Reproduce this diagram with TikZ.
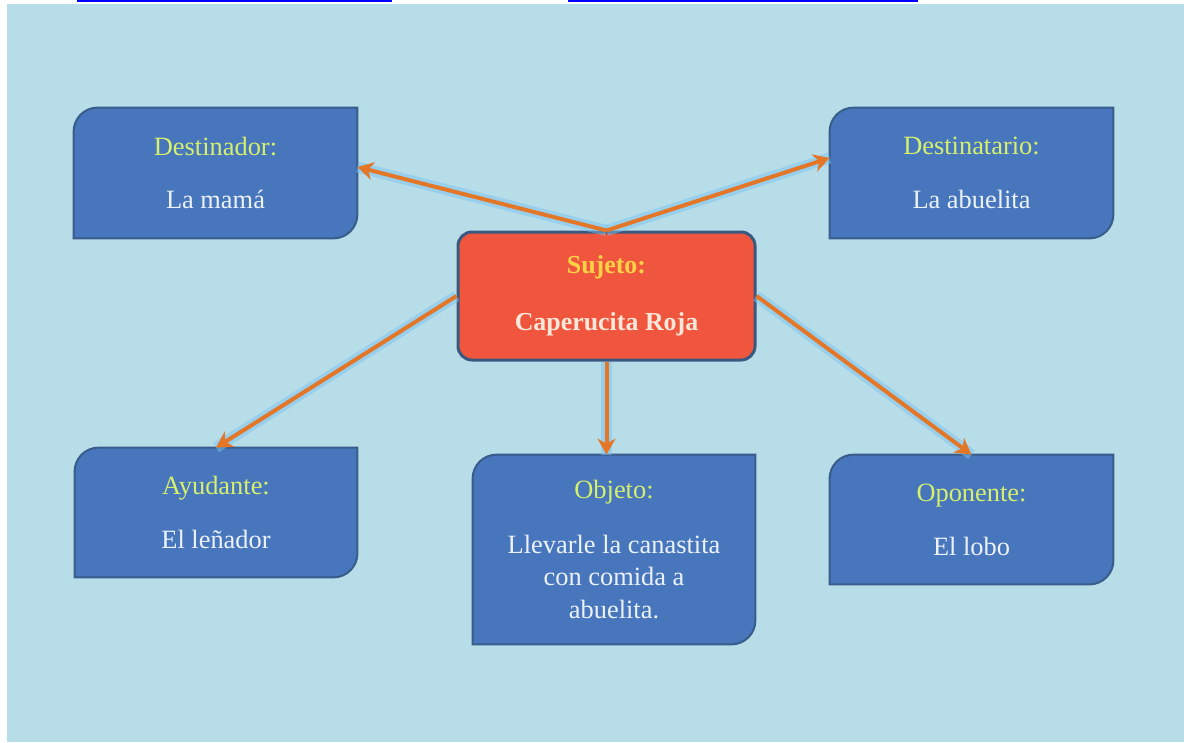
\documentclass[tikz,border=0pt]{standalone}
\usepackage{fontspec}
\setmainfont{Liberation Serif}
\usetikzlibrary{arrows.meta,backgrounds}

\definecolor{backblue}{HTML}{B7DDE8}
\definecolor{boxblue}{RGB}{71,118,189}
\definecolor{boxedge}{RGB}{56,93,138}
\definecolor{subjred}{RGB}{240,86,62}
\definecolor{subjedge}{RGB}{59,88,128}
\definecolor{titlegreen}{RGB}{214,240,110}
\definecolor{titleyellow}{RGB}{255,210,70}
\definecolor{bodywhite}{RGB}{236,242,250}
\definecolor{namecream}{RGB}{252,232,218}
\definecolor{arroworange}{RGB}{228,118,40}
\definecolor{glowblue}{RGB}{120,195,240}
\definecolor{linkblue}{RGB}{0,0,255}

\tikzset{
    actant/.style={inner sep=0pt, align=center, text=bodywhite,
        font=\fontsize{13.25}{16.25}\selectfont},
    actantbox/.style={fill=boxblue, draw=boxedge, line width=1bp},
    relation/.style={draw=arroworange, line width=2bp,
        -{Stealth[length=8bp,width=9bp]},
        preaction={draw=glowblue, line width=5.5bp, opacity=0.5, -}}
}
\newcommand{\role}[1]{{\color{titlegreen}#1}}

\begin{document}
\begin{tikzpicture}[x=0.5bp,y=-0.5bp]
        \useasboundingbox (0,0) rectangle (1184,742);

        % Links above the slide
        \draw[linkblue, line width=1bp] (77,1) -- (392,1);
        \draw[linkblue, line width=1bp] (568,1) -- (918,1);

        % Nodes
        \node[actant, minimum width=141.5bp, minimum height=65bp] (destinador) at (215.5,173)
            {\role{Destinador:}\\[10.75bp] La mamá};
        \node[actant, minimum width=141.5bp, minimum height=65bp] (destinatario) at (971.5,173)
            {\role{Destinatario:}\\[10.75bp] La abuelita};
        \node[actant, minimum width=141bp, minimum height=64.5bp] (ayudante) at (216,512.5)
            {\role{Ayudante:}\\[10.75bp] El leñador};
        \node[actant, minimum width=141bp, minimum height=94.5bp] (objeto) at (614,549.5)
            {\role{Objeto:}\\[11.25bp] Llevarle la canastita\\ con comida a\\ abuelita.};
        \node[actant, minimum width=141.5bp, minimum height=64.5bp] (oponente) at (971.5,519.5)
            {\role{Oponente:}\\[10.75bp] El lobo};
        \node[actant, font=\bfseries\fontsize{13}{16}\selectfont, text=namecream,
            minimum width=148.5bp, minimum height=64bp, fill=subjred, draw=subjedge,
            line width=1.5bp, rounded corners=7bp] (sujeto) at (606.5,296)
            {{\color{titleyellow}Sujeto:}\\[12.5bp] Caperucita Roja};

        % Boxes
        \begin{pgfonlayer}{background}
            \fill[backblue] (7,4) rectangle (1184,742);
            \foreach \n in {destinador,destinatario,ayudante,objeto,oponente} {
                \draw[actantbox] (\n.west) [rounded corners=12bp] -- (\n.north west)
                    [sharp corners] -- (\n.north east) [rounded corners=12bp] -- (\n.south east)
                    [sharp corners] -- (\n.south west) -- cycle;
            }
        \end{pgfonlayer}

        % Edges
        \draw[relation] (sujeto.north) -- ([yshift=3bp]destinador.east);
        \draw[relation] (sujeto.north) -- ([yshift=7.5bp]destinatario.west);
        \draw[relation] (sujeto.west) -- (ayudante.north);
        \draw[relation] (sujeto.south) -- (sujeto.south |- objeto.north);
        \draw[relation] (sujeto.east) -- (oponente.north);
\end{tikzpicture}
\end{document}
